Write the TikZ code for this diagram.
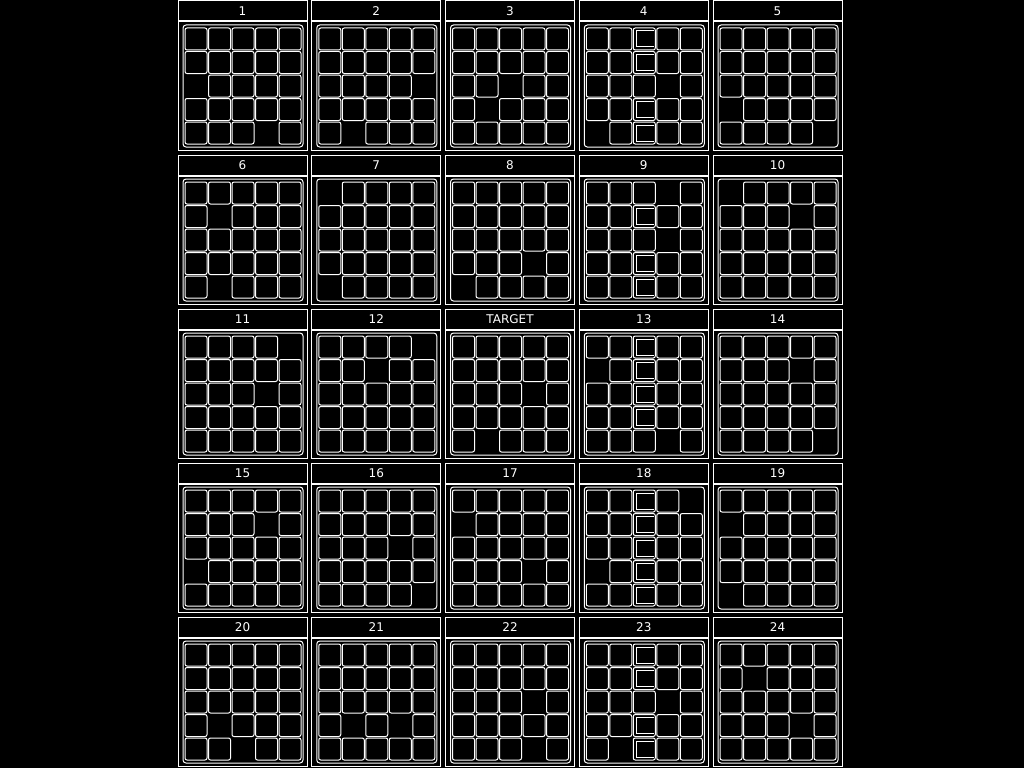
\documentclass[tikz,border=0pt]{standalone}
\usepackage{fontspec}
\setmainfont{DejaVu Sans}
\tikzset{
  every node/.style={inner sep=0pt, outer sep=0pt},
  ln/.style={draw=white, line width=1pt},
  titlebox/.style={ln, rectangle, minimum width=129pt, minimum height=20pt, text=white, font=\fontsize{12}{12}\selectfont},
  framebox/.style={ln, rectangle, minimum width=129pt, minimum height=128pt},
  gridbox/.style={ln, rectangle, rounded corners=3pt, minimum width=120pt, minimum height=122pt},
  tile/.style={ln, rectangle, rounded corners=2pt, minimum width=22pt, minimum height=22pt},
  barmark/.style={draw=white, line width=1pt}
}
\makeatletter
\newcommand\puzzlepanel[6]{%
  \pgfmathsetmacro\px{178+#2*133.75}%
  \pgfmathsetmacro\py{1+#3*154}%
  \node[titlebox] (#1t) at (\px+64.5,\py+10) {#4};
  \node[framebox] (#1f) at (\px+64.5,\py+85) {};
  \node[gridbox] (#1g) at (\px+65,\py+85) {};
  \foreach \rr in {0,...,4}{%
    \foreach \cc in {0,...,4}{%
      \edef\pp@test{\noexpand\in@{(\rr,\cc)}{#5}}\pp@test
      \ifin@\else
        \edef\pp@test{\noexpand\in@{(\rr,\cc)}{#6}}\pp@test
        \ifin@
          \node[tile] (#1r\rr c\cc) at (\px+18+\cc*23.5,\py+38+\rr*23.5) {};
          \draw[barmark] ([shift={(-1,3)}]#1r\rr c\cc.north east) -- ([shift={(3,3)}]#1r\rr c\cc.north west)
             -- ([shift={(3,-3)}]#1r\rr c\cc.south west) -- ([shift={(-1,-3)}]#1r\rr c\cc.south east);
        \else
          \node[tile] (#1r\rr c\cc) at (\px+18+\cc*23.5,\py+38+\rr*23.5) {};
        \fi
      \fi
    }%
  }%
}
\makeatother
\begin{document}
\begin{tikzpicture}[x=1pt,y=-1pt]
\fill[black] (0,0) rectangle (1024,768);
\useasboundingbox (0,0) rectangle (1024,768);
\puzzlepanel{pa}{0}{0}{1}{(2,0)(4,3)}{}
\puzzlepanel{pb}{1}{0}{2}{(2,4)(4,1)}{}
\puzzlepanel{pc}{2}{0}{3}{(2,2)(3,1)}{}
\puzzlepanel{pd}{3}{0}{4}{(2,3)(4,0)}{(0,2)(1,2)(3,2)(4,2)}
\puzzlepanel{pe}{4}{0}{5}{(3,0)(4,4)}{}
\puzzlepanel{pf}{0}{1}{6}{(1,1)(4,1)}{}
\puzzlepanel{pg}{1}{1}{7}{(0,0)(4,0)}{}
\puzzlepanel{ph}{2}{1}{8}{(3,3)(4,0)}{}
\puzzlepanel{pi}{3}{1}{9}{(0,3)(2,3)}{(1,2)(3,2)(4,2)}
\puzzlepanel{pj}{4}{1}{10}{(0,0)(1,3)}{}
\puzzlepanel{pk}{0}{2}{11}{(0,4)(2,3)}{}
\puzzlepanel{pl}{1}{2}{12}{(0,4)(1,2)}{}
\puzzlepanel{pt}{2}{2}{TARGET}{(2,3)(4,1)}{}
\puzzlepanel{pm}{3}{2}{13}{(1,0)(4,3)}{(0,2)(1,2)(2,2)(3,2)}
\puzzlepanel{pn}{4}{2}{14}{(1,3)(4,4)}{}
\puzzlepanel{po}{0}{3}{15}{(1,3)(3,0)}{}
\puzzlepanel{pp}{1}{3}{16}{(2,3)(4,4)}{}
\puzzlepanel{pq}{2}{3}{17}{(1,0)(3,3)}{}
\puzzlepanel{pr}{3}{3}{18}{(0,4)(3,0)}{(0,2)(1,2)(2,2)(3,2)(4,2)}
\puzzlepanel{ps}{4}{3}{19}{(1,0)(4,0)}{}
\puzzlepanel{pu}{0}{4}{20}{(3,1)(4,2)}{}
\puzzlepanel{pv}{1}{4}{21}{(3,1)(3,3)}{}
\puzzlepanel{pw}{2}{4}{22}{(2,3)(4,3)}{}
\puzzlepanel{px}{3}{4}{23}{(2,3)(4,1)}{(0,2)(1,2)(3,2)(4,2)}
\puzzlepanel{py}{4}{4}{24}{(1,1)(3,3)}{}
\end{tikzpicture}
\end{document}
